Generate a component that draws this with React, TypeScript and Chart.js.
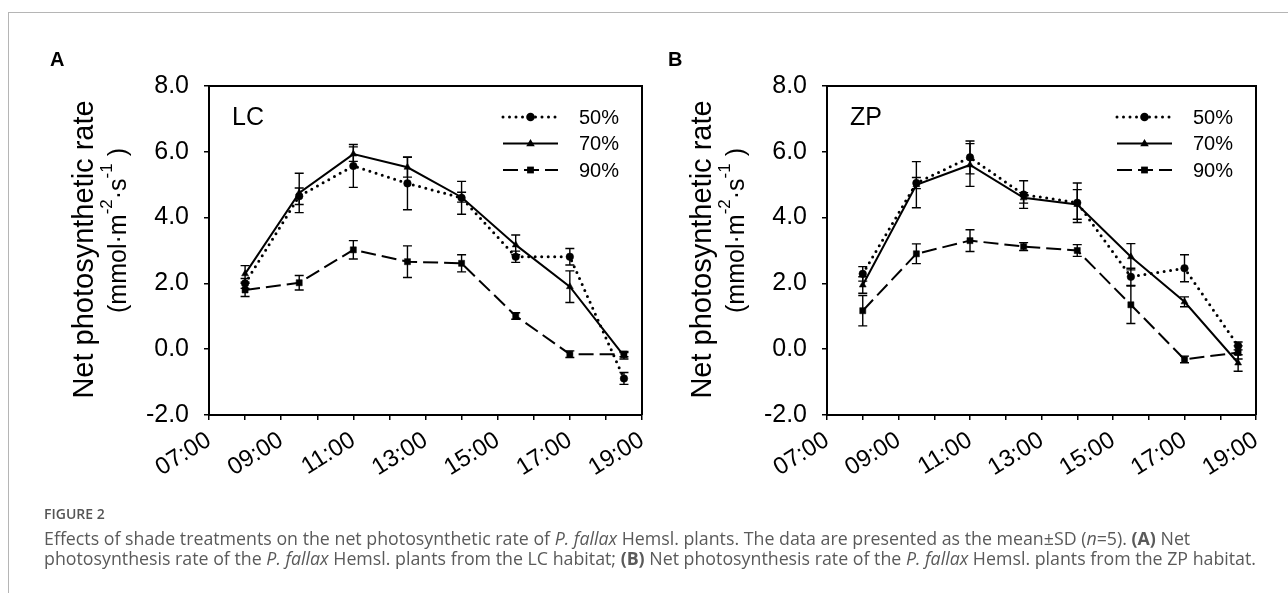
import React, { useEffect, useRef } from "react";
import { Chart, registerables } from "chart.js";

Chart.register(...registerables);

const FONT = '"Liberation Sans", Arial, Helvetica, sans-serif';

const sampleTimes = [8, 9.5, 11, 12.5, 14, 15.5, 17, 18.5];
const xTickHours = [7, 9, 11, 13, 15, 17, 19];
const xTickLabels = ["07:00", "09:00", "11:00", "13:00", "15:00", "17:00", "19:00"];
const seriesNames = ["50%", "70%", "90%"];

// Panel A — LC habitat
const lc50 = [2.0, 4.65, 5.57, 5.04, 4.6, 2.81, 2.81, -0.89];
const lc50Sd = [0.15, 0.25, 0.65, 0.8, 0.5, 0.17, 0.25, 0.18];
const lc70 = [2.29, 4.75, 5.93, 5.53, 4.62, 3.17, 1.9, -0.2];
const lc70Sd = [0.25, 0.6, 0.22, 0.3, 0.15, 0.3, 0.48, 0.1];
const lc90 = [1.8, 2.02, 3.02, 2.66, 2.61, 1.01, -0.15, -0.15];
const lc90Sd = [0.2, 0.22, 0.28, 0.48, 0.26, 0.1, 0.1, 0.08];

// Panel B — ZP habitat
const zp50 = [2.29, 5.05, 5.83, 4.7, 4.45, 2.2, 2.46, 0.1];
const zp50Sd = [0.22, 0.17, 0.5, 0.42, 0.6, 0.26, 0.41, 0.12];
const zp70 = [1.95, 5.0, 5.6, 4.6, 4.4, 2.81, 1.44, -0.42];
const zp70Sd = [0.25, 0.7, 0.65, 0.16, 0.45, 0.4, 0.15, 0.25];
const zp90 = [1.17, 2.9, 3.3, 3.12, 3.0, 1.35, -0.31, -0.1];
const zp90Sd = [0.46, 0.3, 0.33, 0.12, 0.18, 0.57, 0.1, 0.2];

type SeriesStyle = {
  dash: number[];
  width: number;
  cap: CanvasLineCap;
  point: "circle" | "triangle" | "rect";
  radius: number;
};

const styles: SeriesStyle[] = [
  { dash: [0, 6.5], width: 3, cap: "round", point: "circle", radius: 3.8 },
  { dash: [], width: 2, cap: "butt", point: "triangle", radius: 4 },
  { dash: [15, 6], width: 2, cap: "butt", point: "rect", radius: 4.3 },
];

function drawMarker(ctx: CanvasRenderingContext2D, kind: string, x: number, y: number, r: number) {
  ctx.beginPath();
  if (kind === "circle") {
    ctx.arc(x, y, r, 0, Math.PI * 2);
  } else if (kind === "triangle") {
    ctx.moveTo(x, y - r);
    ctx.lineTo(x + r * 0.95, y + r * 0.6);
    ctx.lineTo(x - r * 0.95, y + r * 0.6);
    ctx.closePath();
  } else {
    const s = r * Math.SQRT1_2;
    ctx.rect(x - s, y - s, 2 * s, 2 * s);
  }
  ctx.fill();
}

type PanelProps = {
  left: number;
  rightPad: number;
  letter: string;
  tag: string;
  values: number[][];
  sds: number[][];
};

function Panel({ left, rightPad, letter, tag, values, sds }: PanelProps) {
  const ref = useRef<HTMLCanvasElement>(null);

  useEffect(() => {
    const canvas = ref.current;
    if (!canvas) return;

    const decor = {
      id: "decor" + letter,
      afterDatasetsDraw(chart: any) {
        const ctx: CanvasRenderingContext2D = chart.ctx;
        const xs = chart.scales.x;
        const ys = chart.scales.y;
        ctx.save();
        ctx.strokeStyle = "#000";
        ctx.lineWidth = 1.4;
        ctx.setLineDash([]);
        values.forEach((arr, si) => {
          arr.forEach((v, i) => {
            const e = sds[si][i];
            const x = xs.getPixelForValue(sampleTimes[i]);
            const yt = ys.getPixelForValue(v + e);
            const yb = ys.getPixelForValue(v - e);
            ctx.beginPath();
            ctx.moveTo(x, yt);
            ctx.lineTo(x, yb);
            ctx.moveTo(x - 4.5, yt);
            ctx.lineTo(x + 4.5, yt);
            ctx.moveTo(x - 4.5, yb);
            ctx.lineTo(x + 4.5, yb);
            ctx.stroke();
          });
        });
        ctx.restore();
      },
      afterDraw(chart: any) {
        const ctx: CanvasRenderingContext2D = chart.ctx;
        const a = chart.chartArea;
        ctx.save();
        // box top + right
        ctx.strokeStyle = "#000";
        ctx.lineWidth = 2;
        ctx.setLineDash([]);
        ctx.beginPath();
        ctx.moveTo(a.left, a.top);
        ctx.lineTo(a.right, a.top);
        ctx.lineTo(a.right, a.bottom);
        ctx.stroke();

        ctx.fillStyle = "#000";
        // panel letter
        ctx.font = `bold 20px ${FONT}`;
        ctx.textAlign = "left";
        ctx.textBaseline = "alphabetic";
        ctx.fillText(letter, a.left - 159, 66);

        // habitat tag
        ctx.font = `25px ${FONT}`;
        ctx.fillText(tag, a.left + 23, a.top + 39);

        // legend
        const lx0 = a.right - 139;
        const lx1 = a.right - 84;
        const tx = a.right - 63;
        seriesNames.forEach((name, si) => {
          const st = styles[si];
          const y = a.top + 31 + si * 26.5;
          ctx.save();
          ctx.strokeStyle = "#000";
          ctx.lineWidth = st.width;
          ctx.lineCap = st.cap;
          ctx.setLineDash(st.dash);
          ctx.beginPath();
          ctx.moveTo(lx0, y);
          ctx.lineTo(lx1, y);
          ctx.stroke();
          ctx.restore();
          drawMarker(ctx, st.point, (lx0 + lx1) / 2, y, st.radius + 0.5);
          ctx.font = `20px ${FONT}`;
          ctx.textBaseline = "middle";
          ctx.textAlign = "left";
          ctx.fillText(name, tx, y + 1);
        });

        // y-axis title, line 1
        const cy = (a.top + a.bottom) / 2;
        ctx.textBaseline = "alphabetic";
        ctx.save();
        ctx.translate(a.left - 116, cy - 1);
        ctx.rotate(-Math.PI / 2);
        ctx.font = `29px ${FONT}`;
        ctx.textAlign = "center";
        ctx.fillText("Net photosynthetic rate", 0, 0);
        ctx.restore();

        // y-axis title, line 2 with superscripts
        const segs = [
          { t: "(mmol·m", sup: false },
          { t: "-2", sup: true },
          { t: "·s", sup: false },
          { t: "-1", sup: true },
          { t: " )", sup: false },
        ];
        const mainFont = `25px ${FONT}`;
        const supFont = `17px ${FONT}`;
        let total = 0;
        const widths = segs.map((s) => {
          ctx.font = s.sup ? supFont : mainFont;
          const w = ctx.measureText(s.t).width;
          total += w;
          return w;
        });
        ctx.save();
        ctx.translate(a.left - 83, cy - 20);
        ctx.rotate(-Math.PI / 2);
        ctx.textAlign = "left";
        let px = -total / 2;
        segs.forEach((s, i) => {
          ctx.font = s.sup ? supFont : mainFont;
          ctx.fillText(s.t, px, s.sup ? -14 : 0);
          px += widths[i];
        });
        ctx.restore();

        ctx.restore();
      },
    };

    const gridOpts = {
      drawOnChartArea: false,
      drawTicks: true,
      color: "#000",
      lineWidth: 1.5,
      tickLength: 5,
    };

    const chart = new Chart(canvas, {
      type: "line",
      data: {
        datasets: seriesNames.map((name, si) => ({
          label: name,
          data: sampleTimes.map((t, i) => ({ x: t, y: values[si][i] })),
          borderColor: "#000",
          backgroundColor: "#000",
          borderWidth: styles[si].width,
          borderDash: styles[si].dash,
          borderCapStyle: styles[si].cap,
          pointStyle: styles[si].point,
          pointRadius: styles[si].radius,
          pointBorderWidth: 0.5,
          pointBorderColor: "#000",
          pointBackgroundColor: "#000",
          tension: 0,
          fill: false,
        })),
      },
      options: {
        animation: false,
        responsive: false,
        devicePixelRatio: 1,
        layout: { padding: { top: 86, right: rightPad, bottom: 0, left: 0 } },
        plugins: {
          legend: { display: false },
          tooltip: { enabled: false },
        },
        scales: {
          x: {
            type: "linear",
            min: 7,
            max: 19,
            ticks: {
              stepSize: 1,
              autoSkip: false,
              minRotation: 32,
              maxRotation: 32,
              padding: 6,
              color: "#000",
              font: { size: 24, family: FONT },
              callback: (v: any) => {
                const k = xTickHours.indexOf(Number(v));
                return k >= 0 ? xTickLabels[k] : "";
              },
            },
            grid: gridOpts,
            border: { color: "#000", width: 2 },
            afterFit: (s: any) => {
              s.height = 65;
              s.paddingLeft = 0;
              s.paddingRight = 0;
            },
          },
          y: {
            min: -2,
            max: 8,
            ticks: {
              stepSize: 2,
              padding: 15,
              color: "#000",
              font: { size: 25, family: FONT },
              callback: (v: any) => Number(v).toFixed(1),
            },
            grid: gridOpts,
            border: { color: "#000", width: 2 },
            afterFit: (s: any) => {
              s.width = 209;
              s.paddingTop = 0;
              s.paddingBottom = 0;
            },
          },
        },
      } as any,
      plugins: [decor],
    });
    return () => chart.destroy();
  }, []);

  return (
    <canvas
      ref={ref}
      width={648}
      height={480}
      style={{ position: "absolute", left, top: 0, width: 648, height: 480 }}
    />
  );
}

export default function App() {
  return (
    <div>
      <div
        style={{
          position: "fixed",
          left: 8,
          top: 12,
          right: -20,
          bottom: -20,
          borderTop: "1px solid #b5b5b5",
          borderLeft: "1px solid #b5b5b5",
          background: "#fff",
        }}
      />
      <Panel
        left={0}
        rightPad={6}
        letter="A"
        tag="LC"
        values={[lc50, lc70, lc90]}
        sds={[lc50Sd, lc70Sd, lc90Sd]}
      />
      <Panel
        left={618}
        rightPad={10}
        letter="B"
        tag="ZP"
        values={[zp50, zp70, zp90]}
        sds={[zp50Sd, zp70Sd, zp90Sd]}
      />
      <div
        style={{
          position: "absolute",
          left: 44,
          top: 504,
          font: '600 14px "Open Sans", sans-serif',
          color: "#555",
          lineHeight: "20px",
          whiteSpace: "nowrap",
        }}
      >
        FIGURE 2
      </div>
      <div
        style={{
          position: "absolute",
          left: 44,
          top: 528,
          font: '17.8px "Open Sans", sans-serif',
          color: "#5a5a5a",
          lineHeight: "20px",
          whiteSpace: "nowrap",
        }}
      >
        Effects of shade treatments on the net photosynthetic rate of <i>P. fallax</i> Hemsl. plants. The
        data are presented as the mean±SD (<i>n</i>=5). <b>(A)</b> Net
        <br />
        photosynthesis rate of the <i>P. fallax</i> Hemsl. plants from the LC habitat; <b>(B)</b> Net
        photosynthesis rate of the <i>P. fallax</i> Hemsl. plants from the ZP habitat.
      </div>
    </div>
  );
}
